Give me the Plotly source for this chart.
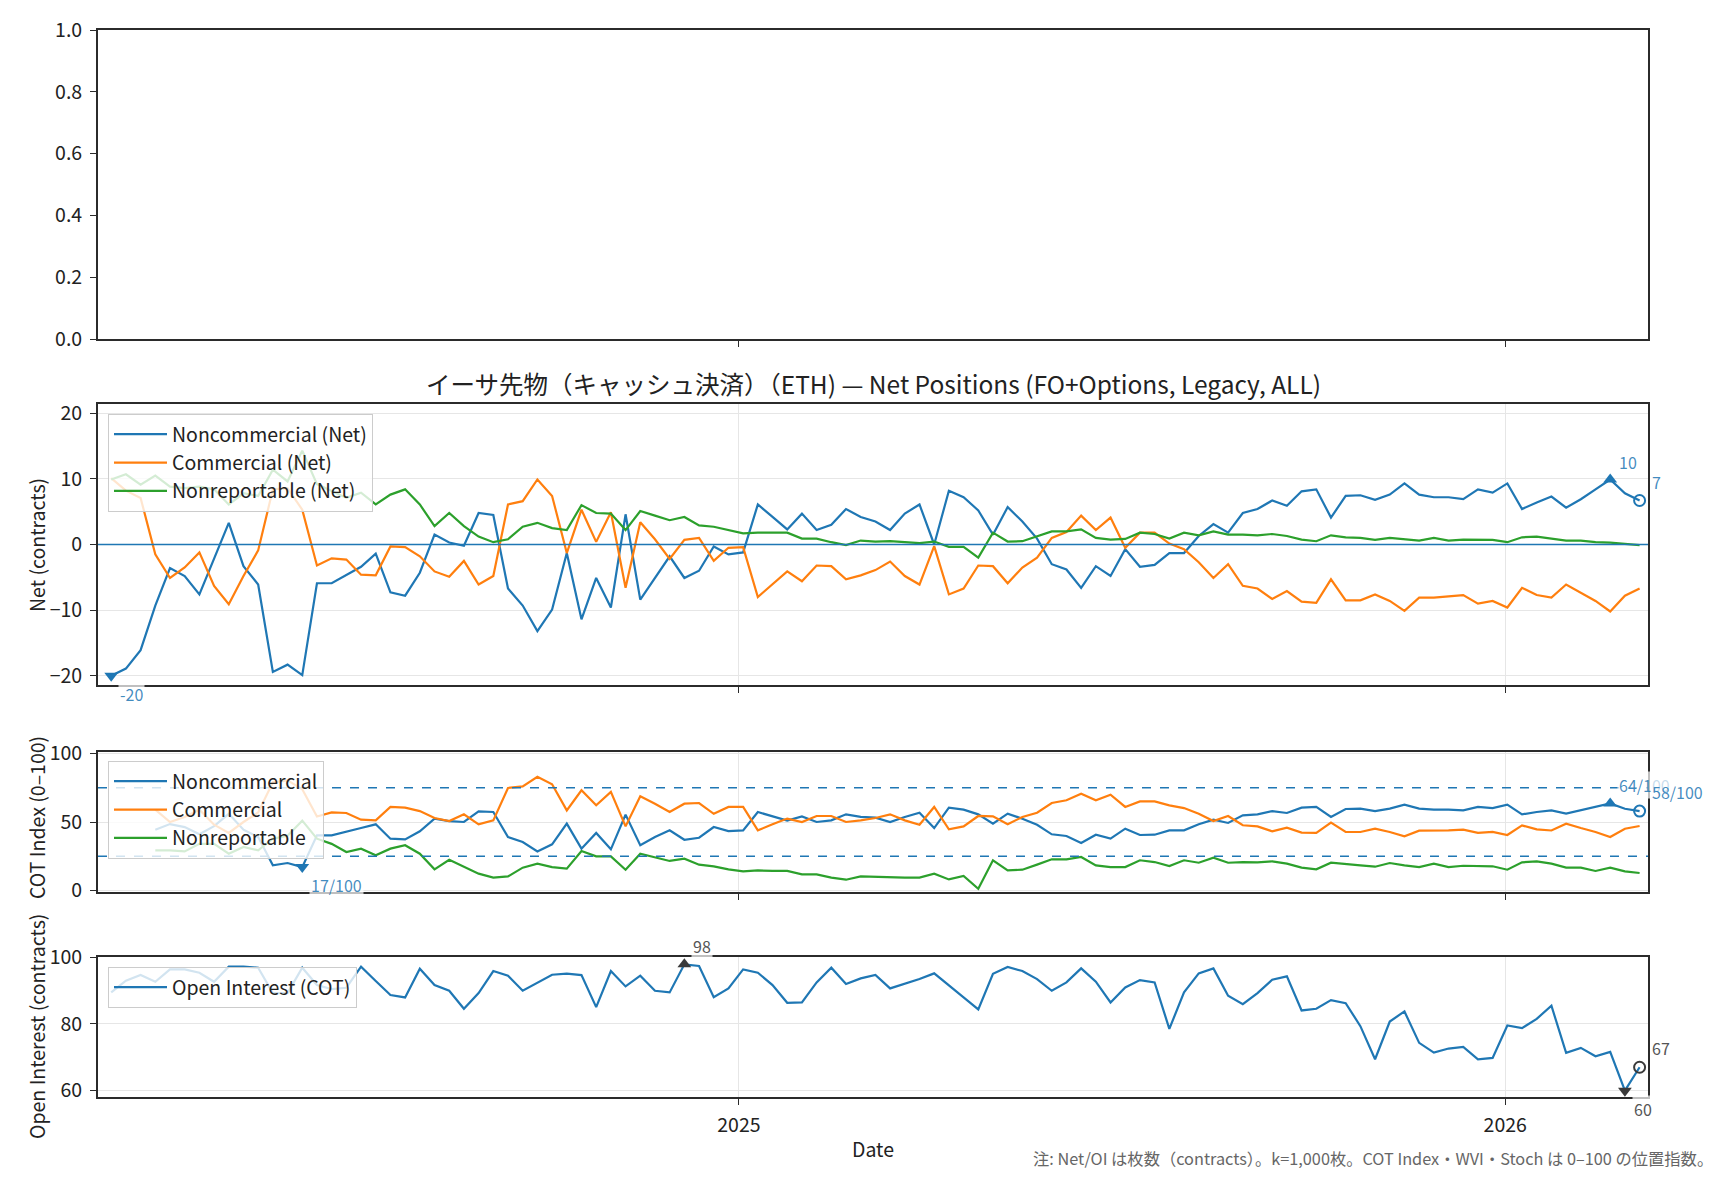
import pandas as pd
import plotly.graph_objects as go

# ---------------- data ----------------
dates = pd.date_range("2024-03-08", periods=105, freq="7D")

nc_net = [-20.0, -18.9, -16.1, -9.3, -3.6, -4.8, -7.6, -2.2, 3.3, -3.3,
          -6.1, -19.4, -18.3, -19.9, -5.9, -5.9, -4.7, -3.4, -1.4, -7.3,
          -7.8, -4.3, 1.5, 0.3, -0.2, 4.8, 4.5, -6.7, -9.3, -13.2,
          -9.9, -1.3, -11.4, -5.1, -9.6, 4.6, -8.4, -5.2, -1.8, -5.1,
          -4.0, -0.3, -1.5, -1.2, 6.1, 4.2, 2.3, 4.7, 2.2, 3.0,
          5.4, 4.2, 3.5, 2.2, 4.7, 6.1, 0.0, 8.2, 7.2, 5.2,
          1.5, 5.7, 3.5, 0.9, -3.0, -3.8, -6.6, -3.3, -4.8, -0.7,
          -3.4, -3.1, -1.3, -1.3, 1.3, 3.1, 1.8, 4.8, 5.4, 6.7,
          5.9, 8.1, 8.4, 4.1, 7.4, 7.5, 6.8, 7.6, 9.3, 7.6,
          7.2, 7.2, 6.9, 8.4, 7.9, 9.3, 5.4, 6.4, 7.3, 5.6,
          6.9, 8.4, 9.9, 7.8, 6.7]

c_net = [10.1, 8.2, 7.1, -1.5, -5.1, -3.5, -1.2, -6.3, -9.1, -4.8,
         -0.9, 8.4, 8.6, 5.3, -3.2, -2.1, -2.3, -4.6, -4.7, -0.3,
         -0.4, -1.8, -4.1, -4.9, -2.5, -6.1, -4.8, 6.1, 6.6, 9.9,
         7.4, -1.3, 5.3, 0.4, 4.9, -6.6, 3.4, 0.8, -2.2, 0.7,
         1.0, -2.5, -0.5, -0.4, -8.0, -6.0, -4.1, -5.6, -3.2, -3.3,
         -5.3, -4.7, -3.9, -2.6, -4.8, -6.1, -0.25, -7.6, -6.7, -3.2,
         -3.3, -5.9, -3.5, -2.0, 1.0, 1.9, 4.4, 2.2, 4.1, -0.5,
         1.8, 1.8, 0.15, -0.7, -2.7, -5.1, -3.0, -6.3, -6.7, -8.3,
         -7.1, -8.7, -8.9, -5.3, -8.5, -8.5, -7.6, -8.6, -10.1, -8.1,
         -8.1, -7.9, -7.7, -9.0, -8.6, -9.6, -6.6, -7.7, -8.1, -6.1,
         -7.3, -8.6, -10.2, -7.8, -6.7]

nr_net = [9.9, 10.7, 9.1, 10.5, 8.8, 8.6, 8.8, 8.4, 6.1, 7.8,
          7.4, 11.4, 9.6, 14.3, 9.2, 8.1, 7.1, 7.9, 6.1, 7.6,
          8.4, 6.1, 2.8, 4.8, 2.8, 1.2, 0.35, 0.8, 2.7, 3.3,
          2.5, 2.2, 6.0, 4.8, 4.7, 2.2, 5.1, 4.4, 3.7, 4.2,
          2.9, 2.7, 2.2, 1.7, 1.8, 1.8, 1.8, 0.9, 0.9, 0.35,
          -0.1, 0.6, 0.45, 0.5, 0.3, 0.2, 0.45, -0.35, -0.35, -2.0,
          1.8, 0.45, 0.5, 1.3, 2.0, 2.0, 2.3, 1.0, 0.75, 0.85,
          1.8, 1.6, 0.9, 1.8, 1.4, 2.0, 1.5, 1.5, 1.4, 1.6,
          1.3, 0.75, 0.5, 1.4, 1.1, 1.0, 0.7, 1.0, 0.85, 0.6,
          1.0, 0.6, 0.75, 0.7, 0.7, 0.35, 1.1, 1.2, 0.9, 0.6,
          0.6, 0.35, 0.3, 0.1, -0.1]

nc_cot = [None, None, None, 44.4, 48.5, 46.3, 41.0, 47.0, 56.0, 44.4,
          39.0, 18.3, 20.0, 17.0, 40.2, 40.2, 42.7, 45.6, 48.3, 37.8,
          37.3, 43.2, 52.4, 50.7, 50.0, 57.8, 57.3, 39.0, 35.4, 28.5,
          33.7, 48.8, 30.5, 42.0, 30.0, 55.4, 33.0, 39.0, 43.9, 37.0,
          38.5, 46.3, 43.4, 43.9, 57.3, 54.0, 51.0, 54.1, 50.0, 51.2,
          55.6, 53.7, 53.2, 50.0, 53.7, 56.8, 45.6, 60.5, 59.0, 55.6,
          48.8, 56.1, 52.4, 48.0, 41.0, 39.8, 34.6, 40.7, 37.8, 45.1,
          40.5, 40.7, 43.9, 43.9, 48.3, 51.7, 49.3, 54.9, 55.6, 58.0,
          56.6, 60.5, 61.0, 53.7, 59.5, 59.8, 58.0, 59.8, 62.7, 59.8,
          59.0, 59.0, 58.5, 61.0, 60.2, 62.7, 55.6, 57.3, 58.5, 56.1,
          58.6, 61.0, 63.6, 59.7, 58.0]

c_cot = [None, None, None, 59.0, 50.0, 53.7, 59.0, 48.0, 42.0, 50.0,
         57.0, 79.0, 80.5, 74.0, 54.0, 57.0, 56.6, 51.7, 51.2, 61.0,
         60.5, 58.0, 52.9, 50.7, 55.6, 48.3, 51.2, 74.9, 76.0, 83.0,
         77.6, 58.5, 73.2, 62.2, 72.0, 46.8, 68.8, 63.4, 57.3, 63.4,
         63.9, 56.0, 61.0, 61.0, 43.9, 48.3, 52.5, 50.0, 54.4, 54.4,
         50.0, 51.2, 52.9, 55.6, 51.2, 48.0, 61.0, 44.6, 46.8, 54.4,
         54.1, 48.3, 53.7, 56.8, 63.9, 65.9, 70.7, 65.9, 70.0, 61.0,
         65.1, 65.1, 62.2, 60.2, 56.1, 50.7, 54.4, 47.6, 46.8, 43.2,
         45.9, 42.2, 42.0, 49.5, 42.7, 42.7, 45.1, 42.7, 39.5, 43.7,
         43.7, 43.9, 44.4, 42.0, 42.7, 40.5, 47.5, 44.6, 43.8, 48.8,
         45.6, 42.7, 39.0, 45.1, 47.1]

nr_cot = [None, None, None, 29.3, 29.3, 28.5, 34.0, 34.0, 26.8, 31.7,
          29.3, 37.8, 40.0, 51.0, 37.8, 34.0, 28.0, 30.5, 25.6, 30.5,
          33.0, 26.8, 15.4, 22.4, 17.0, 12.2, 9.3, 10.2, 16.6, 19.5,
          17.0, 15.9, 28.8, 24.9, 24.9, 15.1, 26.8, 24.4, 21.5, 23.2,
          18.8, 17.6, 15.4, 13.9, 14.6, 14.2, 14.2, 11.7, 11.7, 9.3,
          7.8, 10.2, 9.8, 9.8, 9.3, 9.3, 12.2, 8.0, 10.5, 1.2,
          22.0, 14.6, 15.1, 18.8, 22.7, 22.7, 24.4, 18.3, 17.0, 17.0,
          22.0, 20.7, 17.8, 22.0, 20.2, 23.9, 20.2, 20.7, 20.5, 21.2,
          19.5, 16.6, 15.4, 20.2, 19.0, 18.3, 17.3, 20.0, 18.3, 17.0,
          19.5, 17.0, 18.0, 17.6, 17.6, 15.1, 20.5, 21.2, 19.5, 16.6,
          16.6, 14.2, 16.6, 13.9, 12.7]

oi = [89.4, 92.9, 94.6, 92.6, 96.3, 96.3, 95.3, 92.6, 97.1, 97.1,
      96.8, 89.2, 89.2, 96.8, 91.6, 90.4, 90.8, 97.1, 92.8, 88.6,
      87.9, 96.5, 91.6, 89.9, 84.5, 89.2, 95.8, 94.4, 89.9, 92.3,
      94.7, 95.0, 94.6, 85.0, 95.8, 91.2, 94.4, 89.9, 89.4, 97.8,
      97.3, 88.0, 90.6, 96.3, 95.3, 91.6, 86.3, 86.4, 92.4, 96.8,
      91.9, 93.6, 94.6, 90.6, 91.9, 93.4, 95.1, 91.6, 87.9, 84.3,
      95.0, 97.0, 95.8, 93.4, 89.9, 92.4, 96.6, 92.6, 86.4, 90.9,
      93.1, 92.4, 78.5, 89.4, 95.1, 96.6, 88.4, 85.9, 89.2, 93.2,
      94.2, 84.0, 84.5, 87.1, 86.2, 79.3, 69.4, 80.7, 83.7, 74.3,
      71.4, 72.6, 73.1, 69.4, 69.8, 79.5, 78.7, 81.5, 85.4, 71.3,
      72.8, 70.3, 71.6, 60.0, 67.0]

year_ticks = ["2025-01-01", "2026-01-01"]
year_labels = ["2025", "2026"]
top_ticks = [0.0, 0.2, 0.4, 0.6, 0.8, 1.0]
net_ticks = [-20, -10, 0, 10, 20]
cot_ticks = [0, 50, 100]
oi_ticks = [60, 80, 100]
cot_bands = [25, 75]

TITLE = "イーサ先物（キャッシュ決済）（ETH) — Net Positions (FO+Options, Legacy, ALL)"
NOTE = "注: Net/OI は枚数（contracts）。k=1,000枚。COT Index・WVI・Stoch は 0–100 の位置指数。"

# ---------------- style ----------------
BLUE, ORANGE, GREEN, DARK = "#1f77b4", "#ff7f0e", "#2ca02c", "#3a3a3a"
FONT = "Noto Sans CJK JP"
FS = 19.5
TXT = "#222222"
OFF = 8                                  # page body margin
W, H = 1728 - 2 * OFF, 1180 - 2 * OFF    # figure fits the window exactly
SL, SR, ST, SB = 98, 1648, 30, 1097      # plot area on screen
L, R, T, B = SL - OFF, W - (SR - OFF), ST - OFF, H - (SB - OFF)
PH = SB - ST
PW = SR - SL


def ydom(top_px, bot_px):
    return [(SB - bot_px) / PH, (SB - top_px) / PH]


def px(xs):
    return (xs - SL) / PW


def py(ys):
    return (SB - ys) / PH


xr = ["2024-03-01 17:00", "2026-03-10 00:00"]
fig = go.Figure()

# panel 1 (empty)
fig.add_trace(go.Scatter(x=[dates[0]], y=[None], xaxis="x", yaxis="y",
                         showlegend=False, hoverinfo="skip"))

LW = 2.2
for name, ser, col in [("Noncommercial (Net)", nc_net, BLUE),
                       ("Commercial (Net)", c_net, ORANGE),
                       ("Nonreportable (Net)", nr_net, GREEN)]:
    fig.add_trace(go.Scatter(x=dates, y=ser, name=name, mode="lines",
                             line=dict(color=col, width=LW),
                             xaxis="x2", yaxis="y2", legend="legend"))

for name, ser, col in [("Noncommercial", nc_cot, BLUE),
                       ("Commercial", c_cot, ORANGE),
                       ("Nonreportable", nr_cot, GREEN)]:
    fig.add_trace(go.Scatter(x=dates, y=ser, name=name, mode="lines",
                             line=dict(color=col, width=LW),
                             xaxis="x3", yaxis="y3", legend="legend2"))

fig.add_trace(go.Scatter(x=dates, y=oi, name="Open Interest (COT)", mode="lines",
                         line=dict(color=BLUE, width=LW),
                         xaxis="x4", yaxis="y4", legend="legend3"))

annotations = []


def mark_extremes(ser, xa, ya, col, txtcol, fmt):
    vals = [(i, v) for i, v in enumerate(ser) if v is not None]
    imax = max(vals, key=lambda t: t[1])[0]
    imin = min(vals, key=lambda t: t[1])[0]
    ilast = vals[-1][0]
    for idx, sym, ys in [(imax, "triangle-up", 18), (imin, "triangle-down", -18)]:
        fig.add_trace(go.Scatter(x=[dates[idx]], y=[ser[idx]], mode="markers",
                                 marker=dict(symbol=sym, size=12, color=col),
                                 xaxis=xa, yaxis=ya, showlegend=False,
                                 cliponaxis=False, hoverinfo="skip"))
        annotations.append(dict(x=dates[idx], y=ser[idx], xref=xa, yref=ya,
                                text=fmt(ser[idx]), showarrow=False,
                                xanchor="left", yanchor="middle", xshift=7, yshift=ys,
                                font=dict(size=16, color=txtcol, family=FONT),
                                bgcolor="rgba(255,255,255,0.7)", borderpad=1))
    fig.add_trace(go.Scatter(x=[dates[ilast]], y=[ser[ilast]], mode="markers",
                             marker=dict(symbol="circle-open", size=11, color=col,
                                         line=dict(width=2, color=col)),
                             xaxis=xa, yaxis=ya, showlegend=False,
                             cliponaxis=False, hoverinfo="skip"))
    annotations.append(dict(x=dates[ilast], y=ser[ilast], xref=xa, yref=ya,
                            text=fmt(ser[ilast]), showarrow=False,
                            xanchor="left", yanchor="middle", xshift=10, yshift=19,
                            font=dict(size=16, color=txtcol, family=FONT),
                            bgcolor="rgba(255,255,255,0.7)", borderpad=1))


LBL_BLUE = "rgba(31,119,180,0.85)"
mark_extremes(nc_net, "x2", "y2", BLUE, LBL_BLUE, lambda v: f"{v:.0f}")
mark_extremes(nc_cot, "x3", "y3", BLUE, LBL_BLUE, lambda v: f"{v:.0f}/100")
mark_extremes(oi, "x4", "y4", DARK, "#555555", lambda v: f"{v:.0f}")

shapes = [dict(type="line", xref="x2 domain", x0=0, x1=1, yref="y2", y0=0, y1=0,
               line=dict(color=BLUE, width=1.7), layer="above")]
for lvl in cot_bands:
    shapes.append(dict(type="line", xref="x3 domain", x0=0, x1=1, yref="y3", y0=lvl, y1=lvl,
                       line=dict(color=BLUE, width=1.5, dash="dash"), layer="above"))

axis_common = dict(showline=True, linecolor="#2b2b2b", linewidth=1.8, mirror=True,
                   ticks="outside", ticklen=6, tickwidth=1.4, tickcolor="#2b2b2b",
                   zeroline=False, gridcolor="#e6e6e6", gridwidth=1, automargin=False,
                   tickfont=dict(size=FS, color=TXT, family=FONT))


def xax(anchor, labels, grid):
    d = dict(axis_common)
    d.update(type="date", range=xr, tickvals=year_ticks, ticktext=year_labels,
             anchor=anchor, domain=[0, 1], showticklabels=labels, showgrid=grid,
             ticklabelstandoff=4)
    return d


def yax(anchor, dom, rng, ticks, grid, fmt=None):
    d = dict(axis_common)
    d.update(anchor=anchor, domain=dom, range=rng, tickvals=ticks, showgrid=grid,
             ticklabelstandoff=4)
    if fmt:
        d["tickformat"] = fmt
    return d


xa4 = xax("y4", True, True)
xa4["title"] = dict(text="Date", font=dict(size=FS, color=TXT, family=FONT), standoff=6)

legend_common = dict(bgcolor="rgba(255,255,255,0.8)", bordercolor="#cccccc", borderwidth=1,
                     font=dict(size=FS, color=TXT, family=FONT),
                     xanchor="left", yanchor="top", itemwidth=53)

# titles / y labels / note
annotations += [
    dict(text=TITLE, xref="paper", yref="paper", x=0.5, y=py(383),
         showarrow=False, xanchor="center", yanchor="middle",
         font=dict(size=24.5, color=TXT, family=FONT)),
    dict(text="Net (contracts)", xref="paper", yref="paper", x=px(36),
         y=py(545), textangle=-90, showarrow=False,
         xanchor="center", yanchor="middle", font=dict(size=FS, color=TXT, family=FONT)),
    dict(text="COT Index (0–100)", xref="paper", yref="paper", x=px(36),
         y=py(818), textangle=-90, showarrow=False,
         xanchor="center", yanchor="middle", font=dict(size=FS, color=TXT, family=FONT)),
    dict(text="Open Interest (contracts)", xref="paper", yref="paper", x=px(36),
         y=py(1027), textangle=-90, showarrow=False,
         xanchor="center", yanchor="middle", font=dict(size=FS, color=TXT, family=FONT)),
    dict(text=NOTE, xref="paper", yref="paper", x=px(1715),
         y=py(1158), showarrow=False, xanchor="right", yanchor="middle",
         font=dict(size=16.3, color="#666666", family=FONT)),
]

fig.update_layout(
    width=W, height=H, margin=dict(l=L, r=R, t=T, b=B, autoexpand=False),
    paper_bgcolor="white", plot_bgcolor="white",
    font=dict(family=FONT, size=FS, color=TXT),
    xaxis=xax("y", False, False),
    xaxis2=xax("y2", False, True),
    xaxis3=xax("y3", False, True),
    xaxis4=xa4,
    yaxis=yax("x", ydom(30, 339), [0, 1], top_ticks, False, ".1f"),
    yaxis2=yax("x2", ydom(404, 685), [-21.4, 21.4], net_ticks, True),
    yaxis3=yax("x3", ydom(752, 892), [-1.2, 101.2], cot_ticks, True),
    yaxis4=yax("x4", ydom(957, 1097), [58.1, 100], oi_ticks, True),
    legend=dict(legend_common, x=px(108), y=py(414)),
    legend2=dict(legend_common, x=px(108), y=py(761)),
    legend3=dict(legend_common, x=px(108), y=py(967)),
    shapes=shapes, annotations=annotations, hovermode=False,
)

fig.write_html("out.html")
